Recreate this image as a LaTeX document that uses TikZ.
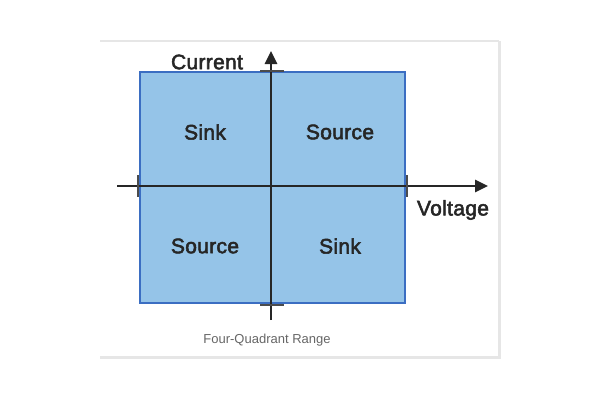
\documentclass[tikz,border=0pt]{standalone}
\usepackage{fontspec}
\setmainfont{Liberation Sans}
\newfontfamily\quadfont[FakeBold=2.5, LetterSpace=1.5]{Liberation Sans}
\usepackage{xcolor}
\usetikzlibrary{arrows.meta}
\definecolor{planeblue}{HTML}{95C4E8}
\definecolor{edgeblue}{HTML}{3B6EC2}
\definecolor{framegray}{HTML}{E6E6E6}
\begin{document}
\begin{tikzpicture}[x=1pt, y=-1pt,
  qtext/.style={font=\quadfont\fontsize{21}{24}\selectfont, text=black!85, inner sep=0},
  axis/.style={line width=2.8pt, draw=black!85},
  tickmark/.style={line width=2pt, draw=black!70}]
\useasboundingbox (0,0) rectangle (600,400);
%frame
\draw[framegray, line width=2pt] (100,41) -- (499,41);
\draw[framegray, line width=3pt] (499,41) -- (499,357) -- (100,357);
\node[draw=edgeblue, fill=planeblue, line width=2.2pt, minimum width=265, minimum height=231, inner sep=0] (plane) at (272.5,187.5) {};
\coordinate (xl) at (117,186);
\coordinate (xr) at (488,186);
\coordinate (yb) at (271,320);
\coordinate (yt) at (271,51);
\draw[axis, -{Triangle[length=13pt,width=12pt]}] (xl) -- (xr);
\draw[axis, -{Triangle[length=13pt,width=12pt]}] (yb) -- (yt);
\draw[tickmark] (260,71) -- (284,71);
\draw[tickmark] (260,305) -- (284,305);
\draw[tickmark] (138,175) -- (138,197);
\draw[tickmark] (407,175) -- (407,197);
\node[qtext] (cur) at (207,62) {Current};
\node[qtext] (volt) at (453,210) {Voltage};
\node[qtext] (q2) at (205,132) {Sink};
\node[qtext] (q1) at (340,132) {Source};
\node[qtext] (q3) at (205,246) {Source};
\node[qtext] (q4) at (340,246) {Sink};
\node[font=\fontsize{13}{15}\selectfont, text=black!60] (cap) at (267,340) {Four-Quadrant Range};
\end{tikzpicture}
\end{document}
